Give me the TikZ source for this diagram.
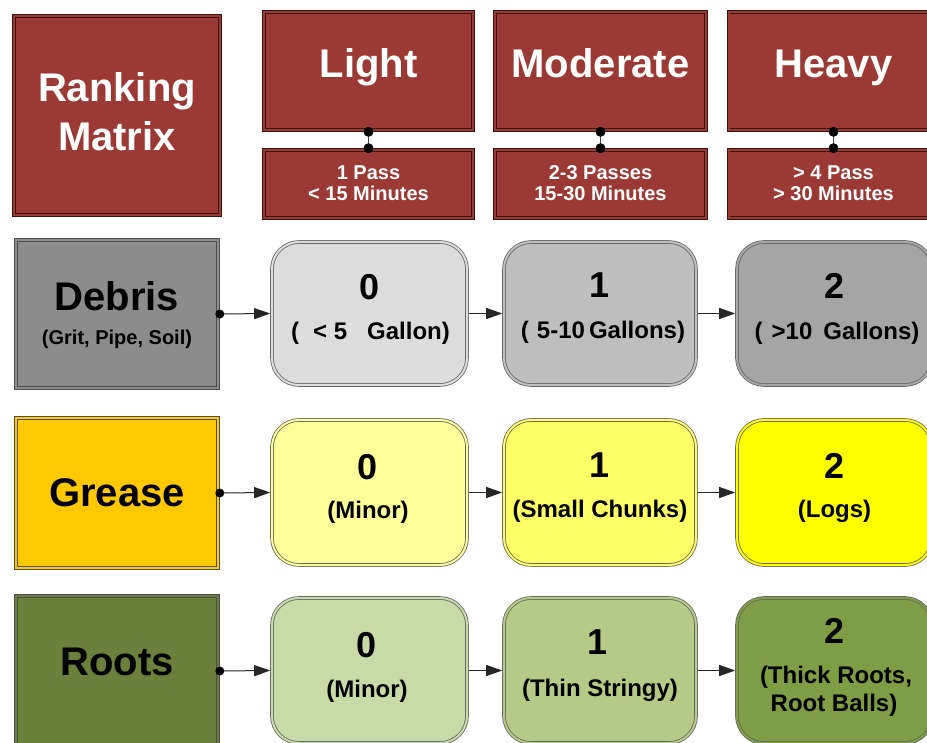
\documentclass[tikz,border=0pt]{standalone}
\usepackage{fontspec}
\setmainfont{Liberation Sans}
\usetikzlibrary{arrows.meta}

% fills
\definecolor{rankred}{HTML}{9B3A35}
\definecolor{rankedge}{HTML}{3A1411}
\definecolor{debrisgray}{HTML}{8C8C8C}
\definecolor{greaseamber}{HTML}{FFC800}
\definecolor{rootsgreen}{HTML}{6B803A}
\definecolor{dzero}{HTML}{DCDCDC}
\definecolor{done}{HTML}{BEBEBE}
\definecolor{dtwo}{HTML}{A5A5A5}
\definecolor{gzero}{HTML}{FFFF99}
\definecolor{gone}{HTML}{FFFF66}
\definecolor{gtwo}{HTML}{FFFF00}
\definecolor{rzero}{HTML}{C9DAA9}
\definecolor{rone}{HTML}{B6CA88}
\definecolor{rtwo}{HTML}{7E9D45}
\definecolor{edge}{HTML}{4D4D4D}

\begin{document}
\begin{tikzpicture}[x=1pt,y=-1pt,
  framed/.style={rectangle, draw=edge, line width=0.8pt, double=#1, fill=#1,
    double distance=2pt, inner sep=0pt, outer sep=1.8pt},
  redbox/.style={framed=rankred, draw=rankedge},
  valbox/.style={framed=#1, rounded corners=27pt, draw=edge!85},
  bigw/.style={anchor=base, text=white, font=\bfseries\fontsize{40}{44}\selectfont},
  bigk/.style={anchor=base, text=black, font=\bfseries\fontsize{40}{44}\selectfont},
  subw/.style={anchor=base, text=white, font=\bfseries\fontsize{20}{24}\selectfont},
  subk/.style={anchor=base, text=black, font=\bfseries\fontsize{20}{24}\selectfont},
  digit/.style={anchor=base, text=black, font=\bfseries\fontsize{36}{40}\selectfont},
  note/.style={anchor=base, text=black, font=\bfseries\fontsize{24}{28}\selectfont},
  flow/.style={draw=black!85, line width=1pt, -{Triangle[length=16pt,width=11pt]}},
  link/.style={draw=black!70, line width=1.2pt},
  dot/.style={fill=black}
]
\useasboundingbox (0,0) rectangle (927,743);
\clip (0,0) rectangle (927,743);
\fill[white] (0,0) rectangle (927,743);

% ---------- header row ----------
\node[redbox, minimum width=206, minimum height=199] (rank) at (117,115.5) {};
\node[bigw] (rankA) at (117,102) {Ranking};
\node[bigw] (rankB) at (117,151) {Matrix};

\node[redbox, minimum width=209, minimum height=118] (light) at (368.5,71) {};
\node[redbox, minimum width=211, minimum height=118] (moderate) at (600.5,71) {};
\node[redbox, minimum width=210, minimum height=118] (heavy) at (833.5,71) {};
\node[bigw] (lightT) at (368.5,78) {Light};
\node[bigw] (moderateT) at (600.5,78) {Moderate};
\node[bigw] (heavyT) at (833.5,78) {Heavy};

\node[redbox, minimum width=209, minimum height=68] (lightS) at (368.5,184) {};
\node[redbox, minimum width=211, minimum height=68] (moderateS) at (600.5,184) {};
\node[redbox, minimum width=210, minimum height=68] (heavyS) at (833.5,184) {};
\node[subw] (lightA) at (368.5,180) {1 Pass};
\node[subw] (lightB) at (368.5,201) {< 15 Minutes};
\node[subw] (moderateA) at (600.5,180) {2-3 Passes};
\node[subw] (moderateB) at (600.5,201) {15-30 Minutes};
\node[subw] (heavyA) at (833.5,180) {> 4 Pass};
\node[subw] (heavyB) at (833.5,201) {> 30 Minutes};

\foreach \h in {light,moderate,heavy}{
  \draw[link] (\h.south) -- (\h S.north);
  \fill[dot] (\h.south) circle (5pt);
  \fill[dot] (\h S.north) circle (5pt);
}

% ---------- Debris row ----------
\node[framed=debrisgray, minimum width=202, minimum height=148] (debris) at (117,314) {};
\node[bigk] (debrisT) at (117,311) {Debris};
\node[subk] (debrisN) at (117,345) {(Grit, Pipe, Soil)};

\node[valbox=dzero, minimum width=195, minimum height=143] (d0) at (369.5,313.5) {};
\node[valbox=done, minimum width=192, minimum height=143] (d1) at (600,313.5) {};
\node[valbox=dtwo, minimum width=195, minimum height=143] (d2) at (834.5,313.5) {};
\node[digit] (d0n) at (369.5,300) {0};
\node[digit] (d1n) at (600,298) {1};
\node[digit] (d2n) at (834.5,299) {2};
\node[note] (d0t) at (370.5,340) {(\hspace{14pt}< 5\hspace{20pt}Gallon)};
\node[note] (d1t) at (603,339) {(\hspace{8pt}5-10\hspace{4pt}Gallons)};
\node[note] (d2t) at (837,340) {(\hspace{9pt}>10\hspace{11pt}Gallons)};

% ---------- Grease row ----------
\node[framed=greaseamber, minimum width=202, minimum height=150] (grease) at (117,493) {};
\node[bigk] (greaseT) at (117,506) {Grease};

\node[valbox=gzero, minimum width=195, minimum height=145] (g0) at (369.5,492.5) {};
\node[valbox=gone, minimum width=192, minimum height=145] (g1) at (600,492.5) {};
\node[valbox=gtwo, minimum width=195, minimum height=145] (g2) at (834.5,492.5) {};
\node[digit] (g0n) at (368,479) {0};
\node[digit] (g1n) at (600,477) {1};
\node[digit] (g2n) at (834.5,478) {2};
\node[note] (g0t) at (368,518) {(Minor)};
\node[note] (g1t) at (600,517) {(Small Chunks)};
\node[note] (g2t) at (834.5,517) {(Logs)};

% ---------- Roots row ----------
\node[framed=rootsgreen, minimum width=202, minimum height=150] (roots) at (117,671) {};
\node[bigk] (rootsT) at (117,675) {Roots};

\node[valbox=rzero, minimum width=195, minimum height=145] (r0) at (369.5,670.5) {};
\node[valbox=rone, minimum width=192, minimum height=145] (r1) at (600,670.5) {};
\node[valbox=rtwo, minimum width=195, minimum height=145] (r2) at (834.5,670.5) {};
\node[digit] (r0n) at (367,657) {0};
\node[digit] (r1n) at (598,654) {1};
\node[digit] (r2n) at (834.5,643) {2};
\node[note] (r0t) at (367,697) {(Minor)};
\node[note] (r1t) at (600,696) {(Thin Stringy)};
\node[note] (r2a) at (836,683) {(Thick Roots,};
\node[note] (r2b) at (834,711) {Root Balls)};

% ---------- flow connectors ----------
\foreach \c/\a/\b/\z in {debris/d0/d1/d2, grease/g0/g1/g2, roots/r0/r1/r2}{
  \draw[flow] (\c.east) -- (\a.west);
  \fill[dot] (\c.east) circle (4.5pt);
  \draw[flow] (\a.east) -- (\b.west);
  \draw[flow] (\b.east) -- (\z.west);
}
\end{tikzpicture}
\end{document}
